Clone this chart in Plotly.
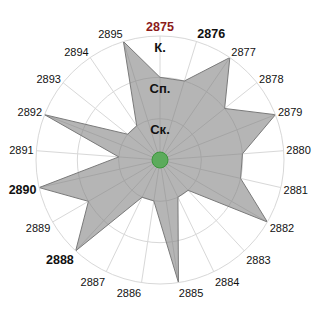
import plotly.graph_objects as go

categories = ["2875", "2876", "2877", "2878", "2879", "2880", "2881", "2882", "2883", "2884",
              "2885", "2886", "2887", "2888", "2889", "2890", "2891", "2892", "2893", "2894", "2895"]
values = [2, 2, 3, 2, 3, 2, 2, 3, 1, 1, 3, 1, 1, 3, 2, 3, 1, 3, 1, 1, 3]
level_values = [1, 2, 3]
level_labels = ["Ск.", "Сп.", "К."]
highlight_red = ["2875"]
highlight_bold = ["2876", "2888", "2890"]


def tick_label(c):
    if c in highlight_red:
        return "<b><span style='color:#8b1a1a;font-size:12.5px'>%s</span></b>" % c
    if c in highlight_bold:
        return "<b><span style='font-size:12.5px'>%s</span></b>" % c
    return c


ticktext = [tick_label(c) for c in categories]

fig = go.Figure()
fig.add_trace(go.Scatterpolar(
    r=values + values[:1],
    theta=categories + categories[:1],
    mode="lines",
    fill="toself",
    fillcolor="rgba(128,128,128,0.58)",
    line=dict(color="#7a7a7a", width=1),
    hoverinfo="skip",
))
fig.add_trace(go.Scatterpolar(
    r=level_values,
    theta=[categories[0]] * len(level_values),
    mode="markers+text",
    marker=dict(size=8, opacity=0),
    text=["<b>%s</b>" % t for t in level_labels],
    textposition="bottom center",
    textfont=dict(family="Liberation Sans, Arial, sans-serif", size=13, color="#111111"),
    hoverinfo="skip",
))
fig.add_trace(go.Scatterpolar(
    r=[0],
    theta=[categories[0]],
    mode="markers",
    marker=dict(size=16, color="#5cab5c", line=dict(color="#3c963c", width=1)),
    hoverinfo="skip",
))

fig.update_layout(
    width=320, height=320,
    margin=dict(l=36, r=36, t=36, b=36),
    paper_bgcolor="white",
    showlegend=False,
    font=dict(family="Liberation Sans, Arial, sans-serif", size=11, color="#111111"),
    polar=dict(
        bgcolor="white",
        domain=dict(x=[0, 1], y=[0, 1]),
        radialaxis=dict(
            range=[0, 3], tickvals=level_values, showticklabels=False,
            showline=False, ticks="", gridcolor="#d8d8d8", gridwidth=1,
        ),
        angularaxis=dict(
            type="category", categoryarray=categories, rotation=90, direction="clockwise",
            tickvals=categories, ticktext=ticktext, ticks="",
            showline=True, linecolor="#d8d8d8", linewidth=1,
            gridcolor="#d8d8d8", gridwidth=1,
        ),
    ),
)

fig.write_html("out.html")
